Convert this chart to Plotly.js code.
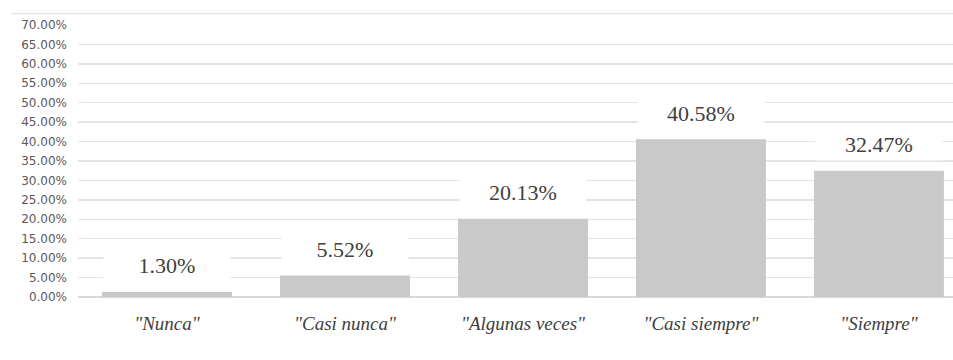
<!DOCTYPE html>
<html>
<head>
<meta charset="utf-8">
<script src="https://cdn.plot.ly/plotly-3.0.1.min.js"></script>
<style>html,body{margin:0;padding:0;background:#fff;}#chart{width:953px;height:360px;}</style>
</head>
<body>
<div id="chart"></div>
<script>
const categories = ['"Nunca"', '"Casi nunca"', '"Algunas veces"', '"Casi siempre"', '"Siempre"'];
const values = [1.30, 5.52, 20.13, 40.58, 32.47];
const valueLabels = ['1.30%', '5.52%', '20.13%', '40.58%', '32.47%'];
const yTickVals = [0, 5, 10, 15, 20, 25, 30, 35, 40, 45, 50, 55, 60, 65, 70];
const yTickText = ['0.00%', '5.00%', '10.00%', '15.00%', '20.00%', '25.00%', '30.00%', '35.00%', '40.00%', '45.00%', '50.00%', '55.00%', '60.00%', '65.00%', '70.00%'];

const trace = {
  type: 'bar',
  x: categories,
  y: values,
  marker: {color: '#c9c9c9'},
  hoverinfo: 'skip'
};

const annotations = categories.map((c, i) => ({
  x: c, y: values[i], xref: 'x', yref: 'y',
  text: valueLabels[i], showarrow: false,
  yshift: 26,
  font: {family: '"Liberation Serif", "Times New Roman", serif', size: 22, color: '#404040'},
  bgcolor: '#ffffff',
  borderpad: 3,
  width: 120
}));

const layout = {
  width: 953, height: 360,
  margin: {l: 78, r: 0, t: 25, b: 63, pad: 0},
  paper_bgcolor: '#ffffff', plot_bgcolor: '#ffffff',
  showlegend: false,
  bargap: 0.27,
  xaxis: {
    type: 'category',
    range: [-0.5, 4.416],
    showgrid: false, zeroline: false, showline: false,
    ticks: '',
    tickfont: {family: '"Liberation Serif", "Times New Roman", serif', size: 19, color: '#404040', style: 'italic'},
    ticklabelstandoff: 13
  },
  yaxis: {
    range: [0, 70],
    tickvals: yTickVals, ticktext: yTickText,
    showgrid: true, gridcolor: '#e3e3e3', gridwidth: 1.5,
    zeroline: true, zerolinecolor: '#d9d9d9', zerolinewidth: 1.5,
    showline: false, ticks: '',
    tickfont: {family: '"DejaVu Sans", sans-serif', size: 12, color: '#595959'},
    ticklabelstandoff: 10
  },
  shapes: [{
    type: 'line', xref: 'paper', yref: 'paper',
    x0: -0.077, x1: 1, y0: 1.042, y1: 1.042,
    line: {color: '#e6e6e6', width: 1.5}
  }],
  annotations: annotations
};

Plotly.newPlot('chart', [trace], layout, {displayModeBar: false, staticPlot: true});
</script>
</body>
</html>
